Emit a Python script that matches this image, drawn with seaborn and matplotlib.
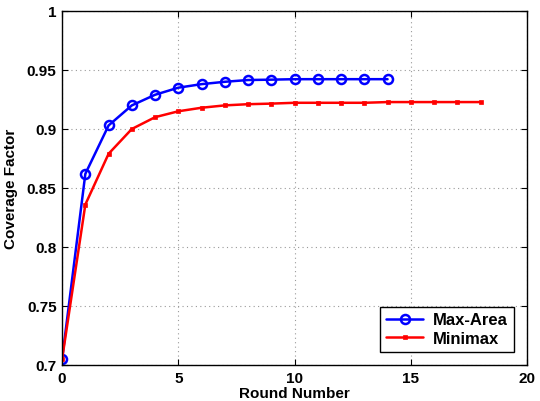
import numpy as np
import pandas as pd
import seaborn as sns
import matplotlib
matplotlib.use("Agg")
import matplotlib.pyplot as plt

rounds_maxarea = list(range(0, 15))
maxarea = [0.705, 0.862, 0.903, 0.920, 0.929, 0.935, 0.938, 0.940, 0.9415, 0.9418,
           0.9422, 0.9422, 0.9422, 0.9422, 0.9422]
rounds_minimax = list(range(0, 19))
minimax = [0.705, 0.836, 0.879, 0.900, 0.910, 0.915, 0.918, 0.920, 0.921, 0.9215,
           0.9222, 0.9222, 0.9222, 0.9222, 0.9228, 0.9228, 0.9228, 0.9228, 0.9228]

df = pd.concat([
    pd.DataFrame({"Round": rounds_maxarea, "Coverage": maxarea, "Method": "Max-Area"}),
    pd.DataFrame({"Round": rounds_minimax, "Coverage": minimax, "Method": "Minimax"}),
])

sns.set_style("white")
plt.rcParams['font.family'] = ['Liberation Sans', 'DejaVu Sans']
plt.rcParams['font.weight'] = 'bold'
plt.rcParams['text.color'] = 'black'
plt.rcParams['axes.labelcolor'] = 'black'
plt.rcParams['xtick.color'] = 'black'
plt.rcParams['ytick.color'] = 'black'

fig = plt.figure(figsize=(5.4, 4.02), dpi=100)
ax = fig.add_axes([0.115, 0.0896, 0.861, 0.8806])

sns.lineplot(data=df[df.Method == "Max-Area"], x="Round", y="Coverage", ax=ax,
             color="#0000ff", lw=1.8, marker="o", markersize=6.5, markerfacecolor="none",
             markeredgecolor="#0000ff", markeredgewidth=1.8, label="Max-Area")
sns.lineplot(data=df[df.Method == "Minimax"], x="Round", y="Coverage", ax=ax,
             color="#ff0000", lw=1.8, marker="s", markersize=3, markeredgewidth=0.5,
             markeredgecolor="#ff0000", label="Minimax")

ax.set_xlim(0, 20)
ax.set_ylim(0.7, 1.0)
ax.set_xticks([0, 5, 10, 15, 20])
ax.set_yticks([0.7, 0.75, 0.8, 0.85, 0.9, 0.95, 1.0])
ax.set_yticklabels(["0.7", "0.75", "0.8", "0.85", "0.9", "0.95", "1"])
ax.grid(True, color="#999999", linestyle=(0, (1, 3)), linewidth=0.8)
for s in ax.spines.values():
    s.set_color("black")
    s.set_linewidth(1.0)
ax.tick_params(direction="in", length=4, width=0.8, colors="black", labelsize=11,
               top=True, right=True, bottom=True, left=True, pad=4)
for lab in ax.get_xticklabels() + ax.get_yticklabels():
    lab.set_fontweight("bold")
    lab.set_color("black")
ax.set_xlabel("Round Number", fontsize=11, fontweight="bold", labelpad=1, color="black")
ax.set_ylabel("Coverage Factor", fontsize=11, fontweight="bold", labelpad=6, color="black")

leg = ax.legend(loc="lower right", fontsize=12, frameon=True, fancybox=False,
                edgecolor="black", framealpha=1, borderaxespad=0.8, handlelength=2.2,
                labelspacing=0.2, borderpad=0.35, handletextpad=0.6)
leg.get_frame().set_linewidth(1.0)
for t in leg.get_texts():
    t.set_fontweight("bold")
    t.set_color("black")

fig.savefig("out.png", dpi=100)
